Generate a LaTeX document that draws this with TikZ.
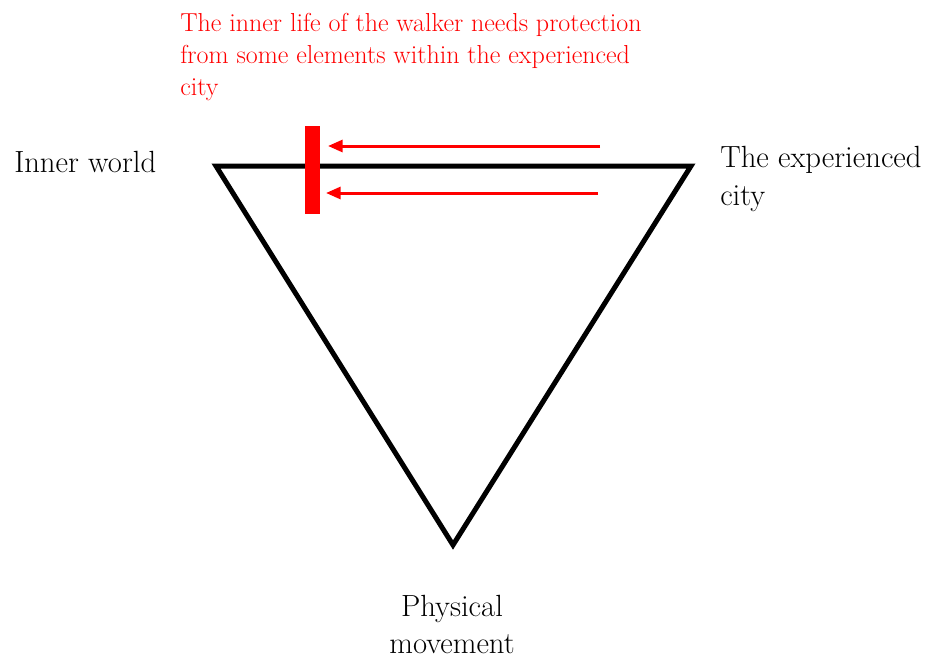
\documentclass[tikz,border=0pt]{standalone}
\usetikzlibrary{arrows.meta}
\definecolor{pred}{RGB}{255,0,0}
\begin{document}
\begin{tikzpicture}[x=0.75pt,y=-0.75pt,
  lbl/.style={inner sep=0pt,font=\fontsize{23}{28.5}\selectfont,align=left},
  note/.style={inner sep=0pt,font=\fontsize{19.5}{24}\selectfont,align=left,text=pred},
  tri/.style={line width=3.75pt,line join=miter},
  blockbar/.style={fill=pred,draw=none,minimum width=11.25pt,minimum height=66pt,inner sep=0pt},
  redarrow/.style={draw=pred,line width=2.25pt,-{Triangle[length=11pt,width=9pt]}}]
\useasboundingbox (0,0) rectangle (943,661);
\coordinate (iw) at (216,166);
\coordinate (ec) at (691,166);
\coordinate (pm) at (453,545);
\draw[tri] (iw) -- (ec) -- (pm) -- cycle;
\node[blockbar] (bar) at (312.5,170) {};
\coordinate (a1s) at (600,146);
\coordinate (a1e) at (328,146);
\coordinate (a2s) at (598,193);
\coordinate (a2e) at (326,193);
\draw[redarrow] (a1s) -- (a1e);
\draw[redarrow] (a2s) -- (a2e);
\node[lbl,anchor=base west] (inner) at (14,172) {Inner world};
\node[lbl,anchor=north west] (city) at (720,146) {The experienced\\city};
\node[lbl,anchor=north,align=center,font=\fontsize{23}{27.5}\selectfont] (phys) at (452,595) {Physical\\movement};
\node[note,anchor=north west] (txt) at (180,13) {The inner life of the walker needs protection\\from some elements within the experienced\\city};
\end{tikzpicture}
\end{document}
